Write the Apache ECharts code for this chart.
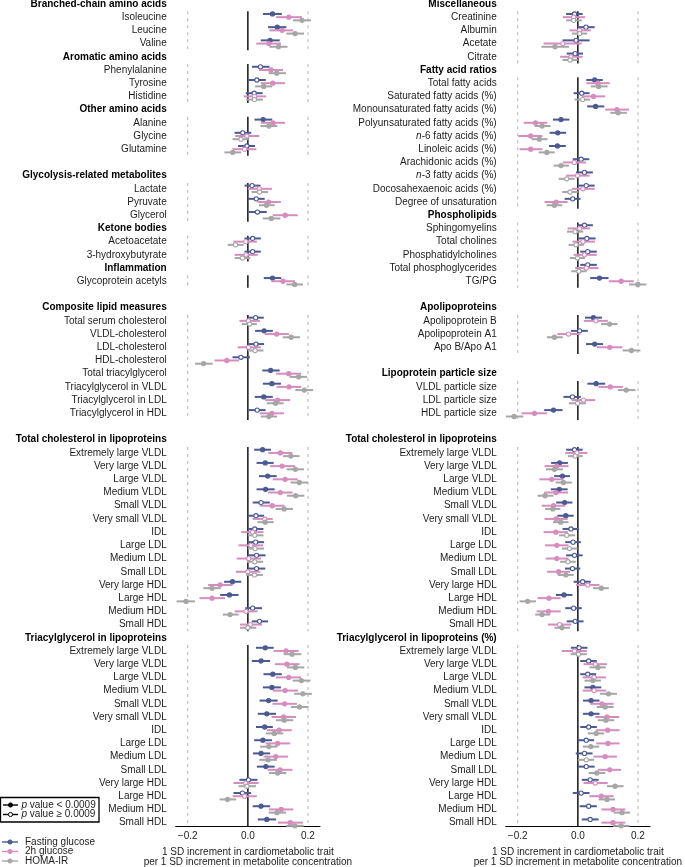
<!DOCTYPE html>
<html><head><meta charset="utf-8">
<script src="https://cdn.jsdelivr.net/npm/echarts@6/dist/echarts.min.js"></script>
<style>html,body{margin:0;padding:0;background:#fff}#c{width:685px;height:867px}</style>
</head><body><div id="c"></div>
<script>
// ---------- labels ----------
const lipo = ["Extremely large VLDL","Very large VLDL","Large VLDL","Medium VLDL","Small VLDL","Very small VLDL","IDL","Large LDL","Medium LDL","Small LDL","Very large HDL","Large HDL","Medium HDL","Small HDL"];
const leftLabels = ["Branched-chain amino acids","Isoleucine","Leucine","Valine",
 "Aromatic amino acids","Phenylalanine","Tyrosine","Histidine",
 "Other amino acids","Alanine","Glycine","Glutamine","",
 "Glycolysis-related metabolites","Lactate","Pyruvate","Glycerol",
 "Ketone bodies","Acetoacetate","3-hydroxybutyrate",
 "Inflammation","Glycoprotein acetyls","",
 "Composite lipid measures","Total serum cholesterol","VLDL-cholesterol","LDL-cholesterol","HDL-cholesterol","Total triacylglycerol","Triacylglycerol in VLDL","Triacylglycerol in LDL","Triacylglycerol in HDL","",
 "Total cholesterol in lipoproteins"].concat(lipo,["Triacylglycerol in lipoproteins"],lipo);
const leftHeaders = [0,4,8,13,17,20,23,33,48];
const rightLabels = ["Miscellaneous","Creatinine","Albumin","Acetate","Citrate",
 "Fatty acid ratios","Total fatty acids","Saturated fatty acids (%)","Monounsaturated fatty acids (%)","Polyunsaturated fatty acids (%)","n-6 fatty acids (%)","Linoleic acids (%)","Arachidonic acids (%)","n-3 fatty acids (%)","Docosahexaenoic acids (%)","Degree of unsaturation",
 "Phospholipids","Sphingomyelins","Total cholines","Phosphatidylcholines","Total phosphoglycerides","TG/PG","",
 "Apolipoproteins","Apolipoprotein B","Apolipoprotein A1","Apo B/Apo A1","",
 "Lipoprotein particle size","VLDL particle size","LDL particle size","HDL particle size","",
 "Total cholesterol in lipoproteins"].concat(lipo,["Triacylglycerol in lipoproteins (%)"],lipo);
const rightHeaders = [0,5,16,23,28,33,48];
const xTicks = [-0.2, 0, 0.2];
const traits = ["Fasting glucose","2h glucose","HOMA-IR"];

// ---------- values: [estimate, lower, upper, p<0.0009 (1) ] ----------
const fastingLeft = [
 [0.082,0.05,0.113,1],[0.098,0.067,0.128,1],[0.074,0.043,0.106,1],
 [0.042,0.014,0.072,0],[0.03,0.001,0.06,0],[0.021,-0.007,0.049,0],
 [0.051,0.022,0.081,1],[-0.017,-0.044,0.011,0],[-0.003,-0.033,0.024,0],
 [0.014,-0.011,0.042,0],[0.028,0,0.056,0],[0.032,0.002,0.063,0],
 [0.016,-0.011,0.043,0],[0.016,-0.011,0.043,0],
 [0.082,0.053,0.111,1],
 [0.026,0,0.053,0],[0.054,0.024,0.083,1],[0.027,0,0.054,0],[-0.023,-0.051,0.007,0],[0.076,0.048,0.106,1],[0.08,0.05,0.11,1],[0.053,0.023,0.083,1],[0.031,0.002,0.059,0],
 [0.049,0.021,0.077,1],[0.058,0.029,0.086,1],[0.066,0.037,0.096,1],[0.059,0.029,0.089,1],[0.044,0.016,0.073,0],[0.027,0,0.054,0],[0.023,0,0.052,0],[0.026,-0.001,0.054,0],[0.029,0,0.059,0],[0.029,0,0.058,0],[-0.051,-0.079,-0.022,1],[-0.061,-0.092,-0.031,1],[0.016,-0.009,0.047,0],[0.039,0.013,0.067,0],
 [0.058,0.027,0.086,1],[0.044,0.013,0.074,1],[0.083,0.052,0.113,1],[0.08,0.05,0.11,1],[0.069,0.039,0.099,1],[0.063,0.033,0.094,1],[0.056,0.027,0.083,1],[0.05,0.021,0.08,1],[0.044,0.017,0.074,1],[0.06,0.03,0.089,1],[0.002,-0.028,0.032,0],[-0.018,-0.048,0.011,0],[0.044,0.016,0.074,1],[0.063,0.033,0.094,1]
];
const twoHourLeft = [
 [0.136,0.094,0.18,1],[0.114,0.072,0.15,1],[0.07,0.028,0.11,1],
 [0.077,0.037,0.117,1],[0.083,0.043,0.124,1],[0.022,-0.014,0.061,0],
 [0.084,0.044,0.124,1],[-0.003,-0.042,0.038,0],[-0.011,-0.051,0.028,0],
 [0.038,0,0.08,0],[0.069,0.032,0.11,1],[0.124,0.083,0.166,1],
 [-0.007,-0.048,0.03,0],[-0.006,-0.044,0.033,0],
 [0.117,0.078,0.157,1],
 [0.002,-0.028,0.04,0],[0.096,0.056,0.137,1],[0.002,-0.034,0.043,0],[-0.07,-0.111,-0.029,1],[0.136,0.094,0.177,1],[0.137,0.096,0.178,1],[0.099,0.058,0.141,1],[0.08,0.039,0.12,1],
 [0.108,0.068,0.148,1],[0.114,0.074,0.157,1],[0.124,0.083,0.166,1],[0.108,0.067,0.149,1],[0.081,0.041,0.122,1],[0.056,0.016,0.083,0],[0.016,-0.022,0.052,0],[0.01,-0.031,0.051,0],[0.003,-0.037,0.044,0],[0,-0.04,0.041,0],[-0.092,-0.132,-0.051,1],[-0.119,-0.161,-0.076,1],[-0.006,-0.044,0.032,0],[0.008,-0.026,0.047,0],
 [0.127,0.086,0.169,1],[0.13,0.09,0.172,1],[0.136,0.094,0.177,1],[0.124,0.083,0.167,1],[0.122,0.082,0.163,1],[0.119,0.079,0.16,1],[0.104,0.063,0.146,1],[0.099,0.059,0.141,1],[0.093,0.052,0.134,1],[0.107,0.066,0.148,1],[-0.007,-0.048,0.036,0],[-0.011,-0.051,0.03,0],[0.111,0.07,0.151,1],[0.141,0.1,0.183,1]
];
const homaLeft = [
 [0.18,0.15,0.21,1],[0.157,0.128,0.187,1],[0.102,0.072,0.132,1],
 [0.096,0.069,0.127,1],[0.053,0.024,0.081,1],[0.022,-0.006,0.05,0],
 [0.07,0.042,0.098,1],[-0.023,-0.051,0.003,0],[-0.05,-0.078,-0.022,1],
 [0.039,0.012,0.067,0],[0.062,0.037,0.089,1],[0.078,0.05,0.108,1],
 [-0.041,-0.067,-0.014,0],[-0.018,-0.044,0.008,0],
 [0.156,0.128,0.183,1],
 [0.006,-0.02,0.03,0],[0.144,0.116,0.174,1],[0.024,0,0.052,0],[-0.147,-0.176,-0.117,1],[0.169,0.139,0.197,1],[0.188,0.158,0.217,1],[0.092,0.063,0.119,1],[0.07,0.043,0.097,1],
 [0.143,0.117,0.172,1],[0.158,0.129,0.187,1],[0.171,0.142,0.2,1],[0.159,0.13,0.188,1],[0.121,0.092,0.15,1],[0.058,0.032,0.086,1],[0.023,0,0.052,0],[0.024,0,0.054,0],[0.023,-0.003,0.051,0],[0.022,-0.006,0.05,0],[-0.119,-0.148,-0.09,1],[-0.206,-0.237,-0.176,1],[-0.059,-0.083,-0.031,1],[0,-0.026,0.028,0],
 [0.147,0.119,0.178,1],[0.158,0.13,0.188,1],[0.178,0.149,0.208,1],[0.183,0.154,0.213,1],[0.172,0.143,0.202,1],[0.121,0.093,0.151,1],[0.088,0.06,0.118,1],[0.07,0.041,0.099,1],[0.067,0.038,0.097,1],[0.099,0.07,0.128,1],[-0.003,-0.031,0.027,0],[-0.067,-0.094,-0.039,1],[0.097,0.069,0.127,1],[0.156,0.128,0.186,1]
];
const fastingRight = [
 [-0.011,-0.039,0.016,0],[0.027,-0.001,0.056,0],[-0.006,-0.051,0.039,0],[-0.009,-0.037,0.017,0],
 [0.056,0.028,0.083,1],[0.013,-0.014,0.039,0],[0.059,0.031,0.088,1],[-0.056,-0.083,-0.028,1],[-0.067,-0.094,-0.039,1],[-0.068,-0.096,-0.04,1],[0.011,-0.017,0.038,0],[0.022,-0.006,0.05,0],[0.028,0,0.056,0],[-0.017,-0.044,0.009,0],
 [0.022,-0.002,0.05,0],[0.03,0.003,0.059,0],[0.033,0.008,0.063,0],[0.033,0.008,0.063,0],[0.072,0.041,0.102,1],
 [0.052,0.024,0.08,1],[0.006,-0.023,0.033,0],[0.056,0.027,0.084,1],
 [0.061,0.032,0.091,1],[-0.018,-0.048,0.01,0],[-0.081,-0.112,-0.051,1],
 [-0.011,-0.039,0.016,0],[-0.061,-0.089,-0.033,1],[-0.051,-0.079,-0.026,1],[-0.062,-0.09,-0.034,1],[-0.044,-0.072,-0.018,1],[-0.04,-0.068,-0.014,1],[-0.023,-0.051,0.004,0],[-0.016,-0.042,0.01,0],[-0.011,-0.039,0.016,0],[-0.018,-0.043,0.008,0],[0.016,-0.014,0.043,0],[-0.046,-0.073,-0.018,1],[-0.014,-0.042,0.013,0],[-0.009,-0.037,0.019,0],
 [0.004,-0.023,0.032,0],[0.036,0.008,0.063,0],[0.033,0.008,0.061,0],[0.05,0.022,0.078,1],[0.044,0.017,0.072,1],[0.044,0.017,0.072,1],[0.036,0.008,0.063,0],[0.028,0,0.054,0],[0.022,-0.007,0.049,0],[0.028,0,0.056,0],[0.041,0.013,0.069,0],[0.011,-0.017,0.039,0],[0.036,0.006,0.063,0],[0.041,0.013,0.069,0]
];
const twoHourRight = [
 [-0.014,-0.05,0.024,0],[0.006,-0.028,0.043,0],[-0.05,-0.114,0.013,0],[-0.023,-0.059,0.016,0],
 [0.067,0.028,0.106,1],[0.052,0.013,0.091,1],[0.13,0.091,0.17,1],[-0.141,-0.18,-0.102,1],[-0.157,-0.198,-0.118,1],[-0.157,-0.194,-0.118,1],[-0.012,-0.05,0.027,0],[-0.001,-0.039,0.039,0],[0.017,-0.02,0.056,0],[-0.072,-0.111,-0.034,1],
 [0.006,-0.034,0.041,0],[0.017,-0.018,0.057,0],[0.022,-0.014,0.063,0],[0.028,-0.009,0.069,0],[0.144,0.103,0.186,1],
 [0.06,0.02,0.1,0],[-0.031,-0.068,0.008,0],[0.106,0.063,0.148,1],
 [0.108,0.069,0.15,1],[0.019,-0.02,0.058,0],[-0.144,-0.187,-0.103,1],
 [-0.003,-0.042,0.032,0],[-0.07,-0.111,-0.031,1],[-0.087,-0.128,-0.048,1],[-0.073,-0.112,-0.033,1],[-0.081,-0.12,-0.042,1],[-0.072,-0.111,-0.034,1],[-0.073,-0.114,-0.033,1],[-0.07,-0.109,-0.031,1],[-0.07,-0.107,-0.031,1],[-0.064,-0.103,-0.026,1],[0.033,-0.006,0.072,0],[-0.096,-0.134,-0.057,1],[-0.098,-0.137,-0.057,1],[-0.061,-0.1,-0.022,0],
 [-0.011,-0.053,0.03,0],[0.058,0.019,0.097,0],[0.054,0.016,0.094,0],[0.054,0.016,0.094,0],[0.08,0.041,0.119,1],[0.097,0.058,0.138,1],[0.099,0.06,0.139,1],[0.1,0.061,0.139,1],[0.091,0.052,0.13,1],[0.106,0.067,0.144,1],[0.058,0.019,0.099,0],[0.078,0.038,0.119,1],[0.117,0.078,0.158,1],[0.117,0.078,0.158,1]
];
const homaRight = [
 [-0.014,-0.039,0.013,0],[0.006,-0.02,0.031,0],[-0.076,-0.121,-0.029,1],[-0.026,-0.051,0,0],
 [0.069,0.043,0.099,1],[0.016,-0.011,0.041,0],[0.134,0.108,0.163,1],[-0.119,-0.144,-0.091,1],[-0.128,-0.154,-0.101,1],[-0.103,-0.13,-0.077,1],[-0.056,-0.08,-0.029,1],[-0.037,-0.064,-0.011,0],[-0.026,-0.052,0,0],[-0.078,-0.104,-0.052,1],
 [-0.009,-0.036,0.018,0],[-0.006,-0.031,0.02,0],[-0.001,-0.027,0.024,0],[0.003,-0.022,0.029,0],[0.2,0.17,0.228,1],
 [0.106,0.077,0.132,1],[-0.078,-0.103,-0.05,1],[0.178,0.149,0.208,1],
 [0.161,0.133,0.192,1],[-0.001,-0.03,0.027,0],[-0.212,-0.239,-0.181,1],
 [-0.009,-0.033,0.016,0],[-0.078,-0.106,-0.05,1],[-0.048,-0.074,-0.02,1],[-0.109,-0.134,-0.081,1],[-0.083,-0.109,-0.058,1],[-0.057,-0.083,-0.031,1],[-0.037,-0.062,-0.009,0],[-0.028,-0.053,-0.001,0],[-0.033,-0.059,-0.007,0],[-0.04,-0.067,-0.014,1],[0.078,0.05,0.103,1],[-0.167,-0.194,-0.139,1],[-0.119,-0.142,-0.092,1],[-0.053,-0.078,-0.026,1],
 [0.002,-0.024,0.03,0],[0.067,0.039,0.093,1],[0.05,0.022,0.077,1],[0.102,0.074,0.13,1],[0.091,0.063,0.119,1],[0.093,0.066,0.121,1],[0.061,0.033,0.088,1],[0.043,0.017,0.071,1],[0.028,0,0.054,0],[0.063,0.036,0.091,1],[0.124,0.097,0.152,1],[0.097,0.069,0.124,1],[0.147,0.119,0.174,1],[0.144,0.117,0.172,1]
];

// ---------- style ----------
const FONT = "'Liberation Sans', Arial, Helvetica, sans-serif";
const TXT = '#1c1c1c';
const COLORS = ['#4b5a91', '#d68cbf', '#a6a6a6'];
const DY = [-3.2, 0, 3.2];
const Y_MIN = -0.3, Y_MAX = 62.3;

function itemRows(labels, headers) {
  const r = [];
  labels.forEach((l, i) => { if (l && headers.indexOf(i) < 0) r.push(i); });
  return r;
}
function groupsOf(rows) {
  const g = [];
  rows.forEach(r => {
    const last = g[g.length - 1];
    if (last && last[1] === r - 1) last[1] = r; else g.push([r, r]);
  });
  return g;
}
function labelRows(labels) { const r = []; labels.forEach((l, i) => { if (l) r.push(i); }); return r; }

function refRender(params, api) {
  const s = api.value(0), e = api.value(1);
  const y0 = s - 0.45, y1 = Math.min(e + 0.5, Y_MAX);
  const ch = [];
  [-0.2, 0.2].forEach(v => {
    const a = api.coord([v, y0]), b = api.coord([v, y1]);
    ch.push({type: 'line', shape: {x1: a[0], y1: a[1], x2: b[0], y2: b[1]},
      style: {stroke: '#b4b4b4', lineWidth: 1, lineDash: [3, 4]}});
  });
  const a = api.coord([0, y0]), b = api.coord([0, y1]);
  ch.push({type: 'line', shape: {x1: a[0], y1: a[1], x2: b[0], y2: b[1]},
    style: {stroke: '#222', lineWidth: 1.6}});
  return {type: 'group', children: ch};
}
function itemRender(color, dy) {
  return function (params, api) {
    const row = api.value(4);
    const pLo = api.coord([api.value(1), row]);
    const pHi = api.coord([api.value(2), row]);
    const pE = api.coord([api.value(0), row]);
    const y = pE[1] + dy;
    const sig = api.value(3) === 1;
    return {type: 'group', children: [
      {type: 'line', shape: {x1: pLo[0], y1: y, x2: pHi[0], y2: y}, style: {stroke: color, lineWidth: 2}},
      {type: 'circle', shape: {cx: pE[0], cy: y, r: 2.1}, style: {fill: sig ? color : '#fff', stroke: color, lineWidth: 1.1}}
    ]};
  };
}

const panels = [
  {labels: leftLabels, headers: leftHeaders, sets: [fastingLeft, twoHourLeft, homaLeft], left: 175.7},
  {labels: rightLabels, headers: rightHeaders, sets: [fastingRight, twoHourRight, homaRight], left: 505.7}
];

const grids = [], xAxes = [], yAxes = [], series = [];
panels.forEach((p, k) => {
  const rows = itemRows(p.labels, p.headers);
  grids.push({left: p.left, width: 144.3, top: 0, height: 826.6, containLabel: false, outerBoundsMode: 'none'});
  xAxes.push({
    type: 'value', gridIndex: k, min: -0.24, max: 0.24,
    splitLine: {show: false},
    axisLine: {show: true, onZero: false, lineStyle: {color: '#000', width: 1}},
    axisTick: {show: false},
    axisLabel: {customValues: xTicks, margin: 5, fontSize: 10, fontFamily: FONT, color: TXT,
      formatter: v => (v < 0 ? '\u2212' : '') + Math.abs(v).toFixed(1)},
    name: '1 SD increment in cardiometabolic trait\nper 1 SD increment in metabolite concentration',
    nameLocation: 'middle', nameGap: 20,
    nameTextStyle: {fontSize: 10, fontFamily: FONT, color: TXT, lineHeight: 10.5}
  });
  yAxes.push({
    type: 'value', gridIndex: k, inverse: true, min: Y_MIN, max: Y_MAX,
    axisLine: {show: false}, axisTick: {show: false}, splitLine: {show: false},
    axisLabel: {
      customValues: labelRows(p.labels), margin: 9, fontSize: 10, fontFamily: FONT, color: TXT,
      hideOverlap: false,
      formatter: v => {
        const i = Math.round(v), t = p.labels[i];
        if (p.headers.indexOf(i) >= 0) return '{b|' + t + '}';
        const m = t.match(/^n-(.*)$/);
        if (m) return '{i|n}-' + m[1];
        return t;
      },
      rich: {
        b: {fontWeight: 'bold', fontSize: 10, fontFamily: FONT, color: '#000'},
        i: {fontStyle: 'italic', fontSize: 10, fontFamily: FONT, color: TXT}
      }
    }
  });
  series.push({type: 'custom', xAxisIndex: k, yAxisIndex: k, renderItem: refRender,
    data: groupsOf(rows), encode: {x: -1, y: [0, 1]}, silent: true, clip: false, z: 1});
  p.sets.forEach((set, j) => {
    series.push({
      type: 'custom', name: traits[j], xAxisIndex: k, yAxisIndex: k,
      renderItem: itemRender(COLORS[j], DY[j]),
      data: set.map((d, n) => [d[0], d[1], d[2], d[3], rows[n]]),
      encode: {x: [0, 1, 2], y: 4}, clip: false, z: 2 + j
    });
  });
});

// ---------- legend (graphic) ----------
const legendY = [842, 851.5, 861];
const graphic = [
  {type: 'rect', shape: {x: 0.5, y: 797.5, width: 98.5, height: 24.5}, style: {fill: '#fff', stroke: '#000', lineWidth: 1.3}, z: 10},
  {type: 'line', shape: {x1: 3, y1: 805, x2: 18, y2: 805}, style: {stroke: '#000', lineWidth: 1.4}, z: 11},
  {type: 'circle', shape: {cx: 10.5, cy: 805, r: 2.1}, style: {fill: '#000', stroke: '#000', lineWidth: 1}, z: 12},
  {type: 'text', x: 21.5, y: 805, style: {text: '{i|p} value < 0.0009', fill: TXT, font: '10px ' + FONT, verticalAlign: 'middle',
     rich: {i: {fontStyle: 'italic', fontSize: 10, fontFamily: FONT, fill: TXT}}}, z: 12},
  {type: 'line', shape: {x1: 3, y1: 814.5, x2: 18, y2: 814.5}, style: {stroke: '#000', lineWidth: 1.4}, z: 11},
  {type: 'circle', shape: {cx: 10.5, cy: 814.5, r: 2.1}, style: {fill: '#fff', stroke: '#000', lineWidth: 1}, z: 12},
  {type: 'text', x: 21.5, y: 814.5, style: {text: '{i|p} value \u2265 0.0009', fill: TXT, font: '10px ' + FONT, verticalAlign: 'middle',
     rich: {i: {fontStyle: 'italic', fontSize: 10, fontFamily: FONT, fill: TXT}}}, z: 12}
];
traits.forEach((t, j) => {
  graphic.push({type: 'line', shape: {x1: 2, y1: legendY[j], x2: 18, y2: legendY[j]}, style: {stroke: COLORS[j], lineWidth: 1.4}});
  graphic.push({type: 'circle', shape: {cx: 10, cy: legendY[j], r: 2.1}, style: {fill: COLORS[j], stroke: COLORS[j]}});
  graphic.push({type: 'text', x: 25, y: legendY[j], style: {text: t, fill: TXT, font: '10px ' + FONT, verticalAlign: 'middle'}});
});

const chart = echarts.init(document.getElementById('c'), null, {renderer: 'canvas'});
chart.setOption({
  animation: false,
  backgroundColor: '#fff',
  textStyle: {fontFamily: FONT},
  grid: grids, xAxis: xAxes, yAxis: yAxes, series: series, graphic: graphic
});
</script>
</body></html>
